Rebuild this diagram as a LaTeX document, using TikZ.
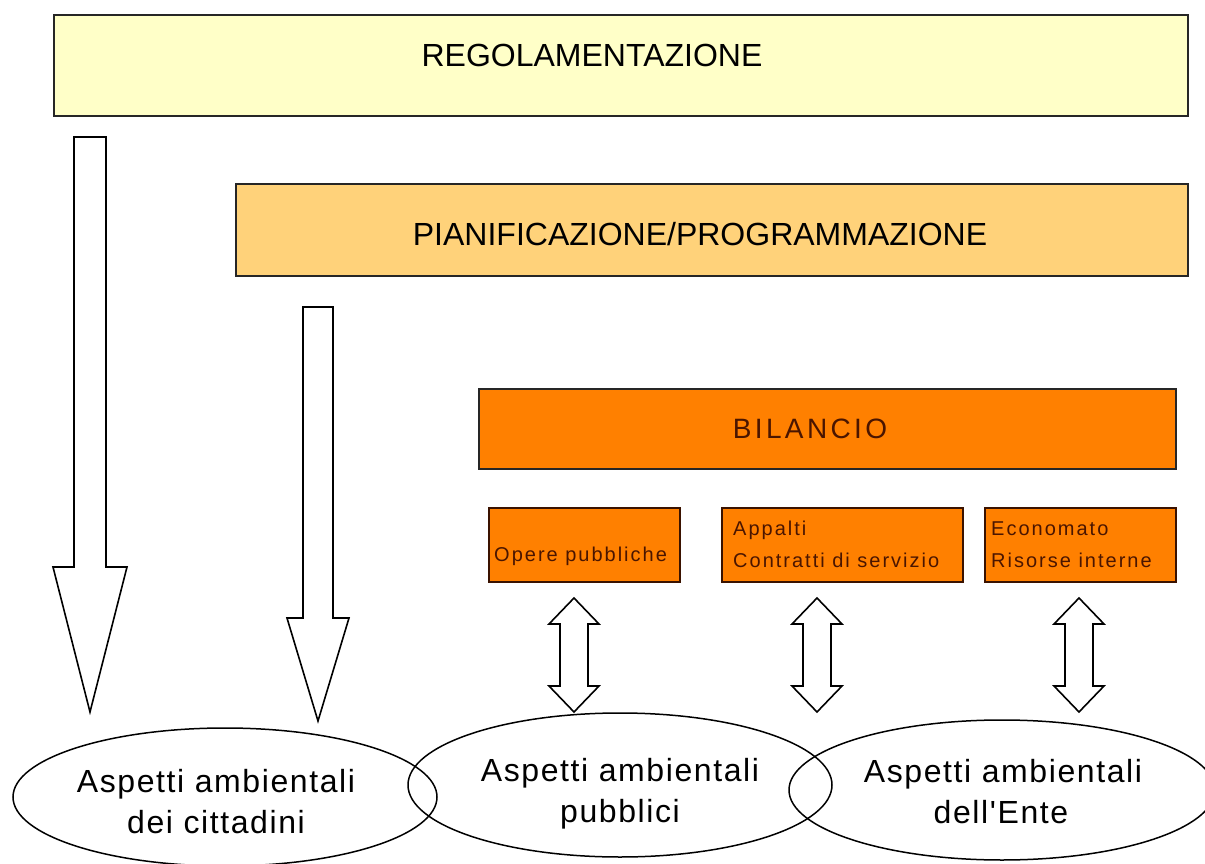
\documentclass[tikz,border=0pt]{standalone}
\usepackage{fontspec}
\setmainfont{Liberation Sans}
\newfontfamily\looseA[LetterSpace=5]{Liberation Sans}
\newfontfamily\looseB[LetterSpace=12]{Liberation Sans}
\newfontfamily\looseC[LetterSpace=10]{Liberation Sans}
\usetikzlibrary{shapes.geometric}

\definecolor{regfill}{HTML}{FFFFC8}
\definecolor{pianfill}{HTML}{FFD27A}
\definecolor{bilfill}{HTML}{FF8000}
\definecolor{bilink}{HTML}{4A1500}
\definecolor{bilrule}{HTML}{3A1200}

\begin{document}
\begin{tikzpicture}[x=1pt,y=-1pt,
  band/.style={draw=black!85, line width=1.6pt, inner sep=0pt, anchor=north west},
  subbox/.style={draw=bilrule, line width=1.6pt, fill=bilfill, inner sep=0pt, anchor=north west},
  blockarrow/.style={draw=black, line width=1.6pt, fill=white, line join=miter},
  aspect/.style={ellipse, draw=black, line width=1.5pt, inner sep=0pt},
  bigtext/.style={anchor=base, inner sep=0pt, font=\fontsize{32}{38}\selectfont},
  ovaltext/.style={anchor=base, inner sep=0pt, font=\looseA\fontsize{32}{38}\selectfont},
  smalltext/.style={anchor=base west, inner sep=0pt, text=bilink, font=\looseC\fontsize{20}{24}\selectfont},
  pics/updown/.style={code={
    \draw[blockarrow] (0,-57) -- (25,-31) -- (14,-31) -- (14,31) -- (25,31)
      -- (0,57) -- (-25,31) -- (-14,31) -- (-14,-31) -- (-25,-31) -- cycle;}}]
\useasboundingbox[fill=white] (0,0) rectangle (1205,864);

% three stacked bands
\node[band, fill=regfill, minimum width=1134pt, minimum height=101pt] (reg) at (53,14) {};
\node[bigtext] (regtxt) at (592,67) {REGOLAMENTAZIONE};

\node[band, fill=pianfill, minimum width=952pt, minimum height=92pt] (pian) at (235,183) {};
\node[bigtext] (piantxt) at (700,245) {PIANIFICAZIONE/PROGRAMMAZIONE};

\node[band, fill=bilfill, minimum width=697pt, minimum height=80pt] (bil) at (478,388) {};
\node[bigtext, text=bilink, font=\looseB\fontsize{28}{34}\selectfont] (biltxt) at (810,438) {BILANCIO};

% budget items
\node[subbox, minimum width=191pt, minimum height=74pt] (opere) at (488,507) {};
\node[smalltext] (operetxt) at (494,561) {Opere pubbliche};

\node[subbox, minimum width=241pt, minimum height=74pt] (appalti) at (721,507) {};
\node[smalltext] (appaltitxt) at (733,535) {Appalti};
\node[smalltext] (contrattitxt) at (733,567) {Contratti di servizio};

\node[subbox, minimum width=191pt, minimum height=74pt] (econ) at (984,507) {};
\node[smalltext] (econtxt) at (991,535) {Economato};
\node[smalltext] (risorsetxt) at (991,567) {Risorse interne};

% downward block arrows
\draw[blockarrow] (74,137) -- (106,137) -- (106,567) -- (127,567) -- (90,712)
  -- (53,567) -- (74,567) -- cycle;
\draw[blockarrow] (303,307) -- (333,307) -- (333,618) -- (349,618) -- (318,721)
  -- (287,618) -- (303,618) -- cycle;

% two-way arrows
\pic at (574,655) {updown};
\pic at (817,655) {updown};
\pic at (1079,655) {updown};

% environmental aspects
\node[aspect, minimum width=424pt, minimum height=138pt] (citt) at (225,797) {};
\node[ovaltext] (citt1) at (216,792) {Aspetti ambientali};
\node[ovaltext] (citt2) at (216,833) {dei cittadini};

\node[aspect, minimum width=424pt, minimum height=144pt] (pubb) at (620,785) {};
\node[ovaltext] (pubb1) at (620,781) {Aspetti ambientali};
\node[ovaltext] (pubb2) at (620,822) {pubblici};

\node[aspect, minimum width=426pt, minimum height=140pt] (ente) at (1002,790) {};
\node[ovaltext] (ente1) at (1003,782) {Aspetti ambientali};
\node[ovaltext] (ente2) at (1001,823) {dell'Ente};
\end{tikzpicture}
\end{document}
